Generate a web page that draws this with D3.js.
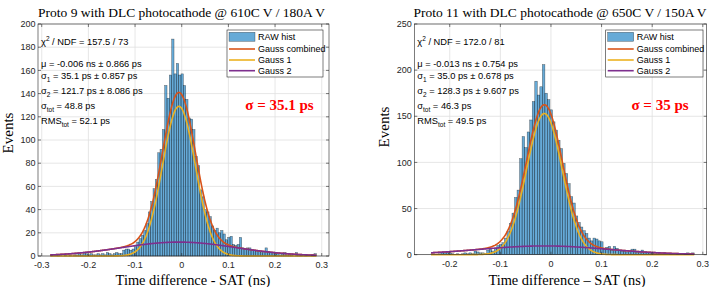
<!DOCTYPE html>
<html>
<head>
<meta charset="utf-8">
<script src="https://cdn.jsdelivr.net/npm/d3@7/dist/d3.min.js"></script>
<style>
  body { margin: 0; background: #fff; }
  svg { display: block; }
  .tick-label { font-family: "Liberation Sans", Arial, sans-serif; font-size: 9px; fill: #262626; }
  .stat { font-family: "Liberation Sans", Arial, sans-serif; font-size: 9.3px; fill: #000; }
  .leg { font-family: "Liberation Sans", Arial, sans-serif; font-size: 9px; fill: #000; }
  .serif { font-family: "Liberation Serif", "Times New Roman", serif; fill: #000; }
</style>
</head>
<body>
<svg id="chart" width="714" height="287"></svg>
<script>
// histogram bins, 5 ps wide
var binWidth = 0.005;

// Proto 9 counts per bin, first bin starts at -0.2815 ns
var leftBinStart = -0.2815;
var leftCounts = [
  1, 0, 0, 1, 0, 0, 1, 0, 1, 0,
  1, 1, 2, 1, 3, 2, 1, 2, 1, 1,
  2, 1, 2, 1, 3, 2, 1, 2, 3, 2,
  2, 5, 6, 6, 5, 6, 8, 12, 15, 18,
  22, 28, 38, 47, 58, 66, 89, 92, 109, 147,
  136, 156, 187, 157, 166, 156, 157, 147, 135, 119,
  118, 109, 86, 78, 57, 51, 40, 38, 34, 26,
  22, 24, 20, 22, 19, 14, 16, 17, 10, 9,
  10, 16, 7, 6, 7, 7, 5, 5, 4, 4,
  3, 4, 7, 4, 3, 3, 2, 2, 1, 2,
  3, 1, 2, 1, 0, 3, 1, 1, 0, 1,
  0, 0, 1, 2
];

// Proto 11 counts per bin, first bin starts at -0.237 ns
var rightBinStart = -0.237;
var rightCounts = [
  1, 0, 0, 1, 2, 2, 3, 2, 1, 0,
  1, 0, 1, 2, 1, 2, 1, 4, 3, 2,
  2, 1, 5, 6, 4, 7, 10, 11, 13, 18,
  25, 34, 45, 62, 70, 104, 128, 116, 133, 146,
  166, 188, 173, 182, 206, 175, 168, 157, 144, 135,
  124, 115, 99, 88, 77, 63, 56, 42, 35, 30,
  26, 23, 18, 15, 18, 17, 15, 14, 6, 8,
  9, 5, 9, 7, 5, 4, 4, 3, 4, 6,
  6, 3, 3, 5, 2, 2, 2, 2, 1, 2,
  1, 1, 2, 1, 0, 1, 1, 0, 1, 1,
  0, 2, 1, 2
];

// fit results: [Gauss 1, Gauss 2] amplitude (events), mean (ns), sigma (ns)
var leftAmp = [129, 12];
var leftMean = [-0.006, -0.006];
var leftSigma = [0.0351, 0.1217];
var rightAmp = [153, 9.5];
var rightMean = [-0.013, -0.013];
var rightSigma = [0.0350, 0.1283];

var leftXTicks = [-0.3, -0.2, -0.1, 0, 0.1, 0.2, 0.3];
var leftYTicks = [0, 20, 40, 60, 80, 100, 120, 140, 160, 180, 200];
var rightXTicks = [-0.2, -0.1, 0, 0.1, 0.2, 0.3];
var rightYTicks = [0, 50, 100, 150, 200, 250];

var legendLabels = ["RAW hist", "Gauss combined", "Gauss 1", "Gauss 2"];

var leftStats = [
  [["χ"], ["2", "sup"], [" / NDF = 157.5 / 73"]],
  [["μ = -0.006 ns ± 0.866 ps"]],
  [["σ"], ["1", "sub"], [" = 35.1 ps ± 0.857 ps"]],
  [["σ"], ["2", "sub"], [" = 121.7 ps ± 8.086 ps"]],
  [["σ"], ["tot", "sub"], [" = 48.8 ps"]],
  [["RMS"], ["tot", "sub"], [" = 52.1 ps"]]
];
var rightStats = [
  [["χ"], ["2", "sup"], [" / NDF = 172.0 / 81"]],
  [["μ = -0.013 ns ± 0.754 ps"]],
  [["σ"], ["1", "sub"], [" = 35.0 ps ± 0.678 ps"]],
  [["σ"], ["2", "sub"], [" = 128.3 ps ± 9.607 ps"]],
  [["σ"], ["tot", "sub"], [" = 46.3 ps"]],
  [["RMS"], ["tot", "sub"], [" = 49.5 ps"]]
];

var colors = {
  bar: "#0072BD",
  combined: "#D95319",
  g1: "#EDB120",
  g2: "#7E2F8E",
  axis: "#262626",
  grid: "#dfdfdf"
};

var svg = d3.select("#chart");

function gauss(x, a, m, s) {
  return a * Math.exp(-0.5 * Math.pow((x - m) / s, 2));
}

function drawPanel(p) {
  var g = svg.append("g");
  var x = d3.scaleLinear().domain(p.xDomain).range(p.xRange);
  var y = d3.scaleLinear().domain(p.yDomain).range(p.yRange);
  var x0 = p.xRange[0], x1 = p.xRange[1], y0 = p.yRange[0], y1 = p.yRange[1];

  // grid
  g.append("g").selectAll("line.gx")
    .data(p.xTicks).enter().append("line")
    .attr("x1", function (d) { return x(d); }).attr("x2", function (d) { return x(d); })
    .attr("y1", y0).attr("y2", y1)
    .attr("stroke", colors.grid).attr("stroke-width", 0.8);
  g.append("g").selectAll("line.gy")
    .data(p.yTicks).enter().append("line")
    .attr("y1", function (d) { return y(d); }).attr("y2", function (d) { return y(d); })
    .attr("x1", x0).attr("x2", x1)
    .attr("stroke", colors.grid).attr("stroke-width", 0.8);

  // histogram bars
  g.append("g").selectAll("rect")
    .data(p.counts).enter().append("rect")
    .attr("x", function (d, i) { return x(p.binStart + i * binWidth); })
    .attr("width", function (d, i) { return x(p.binStart + (i + 1) * binWidth) - x(p.binStart + i * binWidth); })
    .attr("y", function (d) { return y(d); })
    .attr("height", function (d) { return y(0) - y(d); })
    .attr("fill", colors.bar).attr("fill-opacity", 0.6)
    .attr("stroke", "#000").attr("stroke-opacity", 0.55).attr("stroke-width", 0.5);

  // fit curves over histogram range
  var xs = d3.range(p.binStart, p.binStart + p.counts.length * binWidth + 0.0001, 0.001);
  var line = d3.line()
    .x(function (d) { return x(d[0]); })
    .y(function (d) { return y(d[1]); })
    .curve(d3.curveMonotoneX);
  var comb = xs.map(function (v) {
    return [v, gauss(v, p.amp[0], p.mean[0], p.sigma[0]) + gauss(v, p.amp[1], p.mean[1], p.sigma[1])];
  });
  var g1 = xs.map(function (v) { return [v, gauss(v, p.amp[0], p.mean[0], p.sigma[0])]; });
  var g2 = xs.map(function (v) { return [v, gauss(v, p.amp[1], p.mean[1], p.sigma[1])]; });
  [[comb, colors.combined], [g1, colors.g1], [g2, colors.g2]].forEach(function (c) {
    g.append("path").datum(c[0]).attr("d", line)
      .attr("fill", "none").attr("stroke", c[1]).attr("stroke-width", 1.6);
  });

  // box and ticks (inside, all four sides)
  g.append("rect").attr("x", x0).attr("y", y1).attr("width", x1 - x0).attr("height", y0 - y1)
    .attr("fill", "none").attr("stroke", colors.axis).attr("stroke-width", 0.6);
  var tl = 3;
  p.xTicks.forEach(function (d) {
    g.append("line").attr("x1", x(d)).attr("x2", x(d)).attr("y1", y0).attr("y2", y0 - tl)
      .attr("stroke", colors.axis).attr("stroke-width", 0.6);
    g.append("line").attr("x1", x(d)).attr("x2", x(d)).attr("y1", y1).attr("y2", y1 + tl)
      .attr("stroke", colors.axis).attr("stroke-width", 0.6);
  });
  p.yTicks.forEach(function (d) {
    g.append("line").attr("x1", x0).attr("x2", x0 + tl).attr("y1", y(d)).attr("y2", y(d))
      .attr("stroke", colors.axis).attr("stroke-width", 0.6);
    g.append("line").attr("x1", x1).attr("x2", x1 - tl).attr("y1", y(d)).attr("y2", y(d))
      .attr("stroke", colors.axis).attr("stroke-width", 0.6);
  });

  // tick labels
  g.selectAll("text.xt").data(p.xTicks).enter().append("text")
    .attr("class", "tick-label")
    .attr("x", function (d) { return x(d); }).attr("y", y0 + 12)
    .attr("text-anchor", "middle")
    .text(function (d) { return d === 0 ? "0" : d3.format(".1f")(d).replace("−", "-"); });
  g.selectAll("text.yt").data(p.yTicks).enter().append("text")
    .attr("class", "tick-label")
    .attr("x", x0 - 2.5).attr("y", function (d) { return y(d) + 3.2; })
    .attr("text-anchor", "end")
    .text(function (d) { return d; });

  // title and axis labels
  g.append("text").attr("class", "serif").style("font-size", "13.5px")
    .attr("x", p.titleX).attr("y", 17).attr("text-anchor", "middle").text(p.title);
  g.append("text").attr("class", "serif").style("font-size", "14.4px")
    .attr("x", p.xLabelX).attr("y", 284.5).attr("text-anchor", "middle").text(p.xLabel);
  g.append("text").attr("class", "serif").style("font-size", "15px")
    .attr("transform", "translate(" + p.yLabelX + "," + p.yLabelY + ") rotate(-90)")
    .attr("text-anchor", "middle").text("Events");

  // stats block
  var lineY = [45, 67, 79, 93.5, 109, 124];
  p.stats.forEach(function (parts, i) {
    var t = g.append("text").attr("class", "stat").attr("x", x0 + 3).attr("y", lineY[i]);
    parts.forEach(function (pt, j) {
      var s = t.append("tspan").text(pt[0]);
      var prev = parts[j - 1];
      if (pt[1] === "sup") s.attr("dy", -4).style("font-size", "6.5px");
      else if (pt[1] === "sub") s.attr("dy", 3).style("font-size", "6.5px");
      else if (prev && prev[1] === "sup") s.attr("dy", 4);
      else if (prev && prev[1] === "sub") s.attr("dy", -3);
    });
  });

  // sigma callout
  g.append("text").attr("class", "serif")
    .style("font-size", "15px").style("font-weight", "bold").style("fill", "#ff0000")
    .attr("x", p.sigX).attr("y", 109.5).attr("text-anchor", "middle").text(p.sigText);

  // legend
  var lx = p.legX, ly = 30, lw = p.legW, lh = 47;
  var lg = g.append("g");
  lg.append("rect").attr("x", lx).attr("y", ly).attr("width", lw).attr("height", lh)
    .attr("fill", "#fff").attr("stroke", colors.axis).attr("stroke-width", 0.6);
  var rows = [36.8, 49, 60, 70.7];
  lg.append("rect").attr("x", lx + 2).attr("y", rows[0] - 4.5).attr("width", 26).attr("height", 9)
    .attr("fill", colors.bar).attr("fill-opacity", 0.6)
    .attr("stroke", "#000").attr("stroke-opacity", 0.55).attr("stroke-width", 0.5);
  [colors.combined, colors.g1, colors.g2].forEach(function (c, i) {
    lg.append("line").attr("x1", lx + 2).attr("x2", lx + 28)
      .attr("y1", rows[i + 1]).attr("y2", rows[i + 1])
      .attr("stroke", c).attr("stroke-width", 1.6);
  });
  legendLabels.forEach(function (l, i) {
    lg.append("text").attr("class", "leg").attr("x", lx + 31).attr("y", rows[i] + 3.2).text(l);
  });
}

drawPanel({
  counts: leftCounts, binStart: leftBinStart,
  amp: leftAmp, mean: leftMean, sigma: leftSigma,
  xDomain: [-0.308, 0.3156], xRange: [38, 329],
  yDomain: [0, 200], yRange: [256, 24],
  xTicks: leftXTicks, yTicks: leftYTicks,
  title: "Proto 9 with DLC photocathode @ 610C V / 180A V", titleX: 181.5,
  xLabel: "Time difference - SAT (ns)", xLabelX: 193,
  yLabelX: 13, yLabelY: 133,
  stats: leftStats,
  sigText: "σ = 35.1 ps", sigX: 279.5,
  legX: 227, legW: 96
});

drawPanel({
  counts: rightCounts, binStart: rightBinStart,
  amp: rightAmp, mean: rightMean, sigma: rightSigma,
  xDomain: [-0.270, 0.3077], xRange: [414.3, 706.7],
  yDomain: [0, 250], yRange: [254.7, 24],
  xTicks: rightXTicks, yTicks: rightYTicks,
  title: "Proto 11 with DLC photocathode @ 650C V / 150A V", titleX: 560,
  xLabel: "Time difference – SAT (ns)", xLabelX: 567,
  yLabelX: 389, yLabelY: 127,
  stats: rightStats,
  sigText: "σ = 35 ps", sigX: 660,
  legX: 605.7, legW: 97.3
});
</script>
</body>
</html>
